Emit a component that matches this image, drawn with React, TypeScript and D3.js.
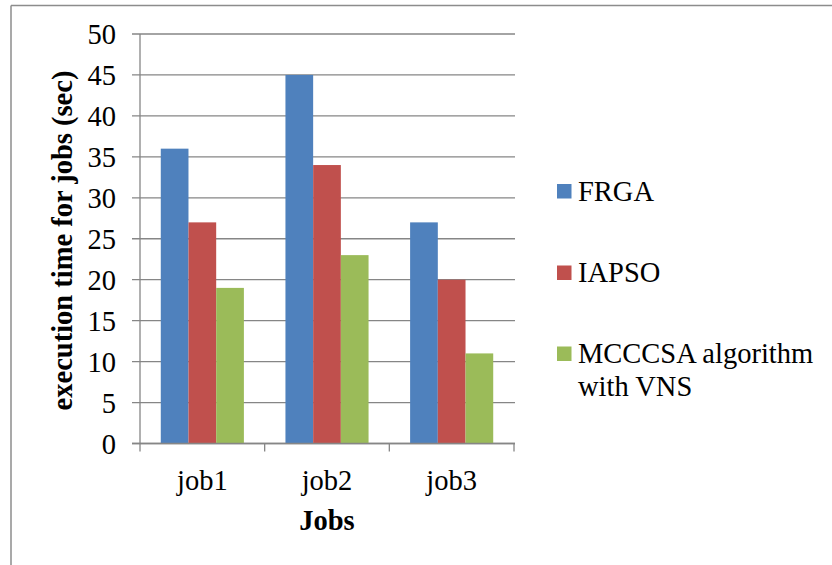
import React from "react";
import * as d3 from "d3";

const categories = ["job1", "job2", "job3"];
const seriesNames = ["FRGA", "IAPSO", "MCCCSA algorithm with VNS"];
const frga = [36, 45, 27];
const iapso = [27, 34, 20];
const mcccsa = [19, 23, 11];
const yTicks = [0, 5, 10, 15, 20, 25, 30, 35, 40, 45, 50];
const colors = ["#4F81BD", "#C0504D", "#9BBB59"];

const W = 832, H = 565;
const left = 140, right = 514, top = 34, bottom = 443.5;
const FONT = "Liberation Serif, Times New Roman, DejaVu Serif, serif";
const ts: React.CSSProperties = { fontFamily: FONT, fontSize: "28.5px" };

export default function App() {
  const series = [frga, iapso, mcccsa];
  const x = d3.scaleBand<string>().domain(categories).range([left, right]).paddingInner(0).paddingOuter(0);
  const inner = d3.scaleBand<number>().domain([0, 1, 2]).range([0, x.bandwidth()]).paddingInner(0).paddingOuter(0.75);
  const y = d3.scaleLinear().domain([0, 50]).range([bottom, top]);
  const grid = "#868686";
  const legendY = [191, 272.5, 353.5];
  return (
    <svg width={W} height={H} style={{ position: "absolute", left: 0, top: 0 }}>
      <rect x={0} y={0} width={W} height={H} fill="#fff" />
      <line x1={11} x2={W} y1={5.5} y2={5.5} stroke="#8c8c8c" strokeWidth={1.5} />
      <line x1={11} x2={11} y1={5.5} y2={H} stroke="#8c8c8c" strokeWidth={1.5} />
      {yTicks.map((t) => (
        <g key={t}>
          <line x1={132} x2={right + 1} y1={y(t)} y2={y(t)} stroke={grid} strokeWidth={1.3} />
          <text x={116} y={y(t) + 10} textAnchor="end" style={ts} fill="#000">{t}</text>
        </g>
      ))}
      {series.map((vals, si) =>
        vals.map((v, ci) => (
          <rect key={`${si}-${ci}`} x={(x(categories[ci]) as number) + (inner(si) as number)} y={y(v)} width={inner.bandwidth()} height={bottom - y(v)} fill={colors[si]} />
        ))
      )}
      <line x1={left} x2={left} y1={top} y2={bottom} stroke={grid} strokeWidth={1.3} />
      <line x1={132} x2={right + 1} y1={bottom} y2={bottom} stroke={grid} strokeWidth={1.3} />
      {[...categories.map((c) => x(c) as number), right].map((p, i) => (
        <line key={i} x1={p} x2={p} y1={bottom} y2={bottom + 8} stroke={grid} strokeWidth={1.3} />
      ))}
      {categories.map((c) => (
        <text key={c} x={(x(c) as number) + x.bandwidth() / 2} y={490} textAnchor="middle" style={ts} fill="#000">{c}</text>
      ))}
      <text x={327} y={530} textAnchor="middle" style={{ ...ts, fontWeight: "bold" }} fill="#000">Jobs</text>
      <text transform={`translate(72,240.5) rotate(-90)`} textAnchor="middle" style={{ ...ts, fontWeight: "bold" }} fill="#000">execution time for jobs (sec)</text>
      {seriesNames.map((n, i) => (
        <g key={n}>
          <rect x={557} y={legendY[i] - 7} width={14.5} height={14.5} fill={colors[i]} />
          {i < 2 ? (
            <text x={578} y={legendY[i] + 9.5} style={ts} fill="#000">{n}</text>
          ) : (
            <text x={578} y={legendY[i] + 9} style={ts} fill="#000">
              <tspan x={578}>MCCCSA algorithm</tspan>
              <tspan x={578} dy={33.5}>with VNS</tspan>
            </text>
          )}
        </g>
      ))}
    </svg>
  );
}
